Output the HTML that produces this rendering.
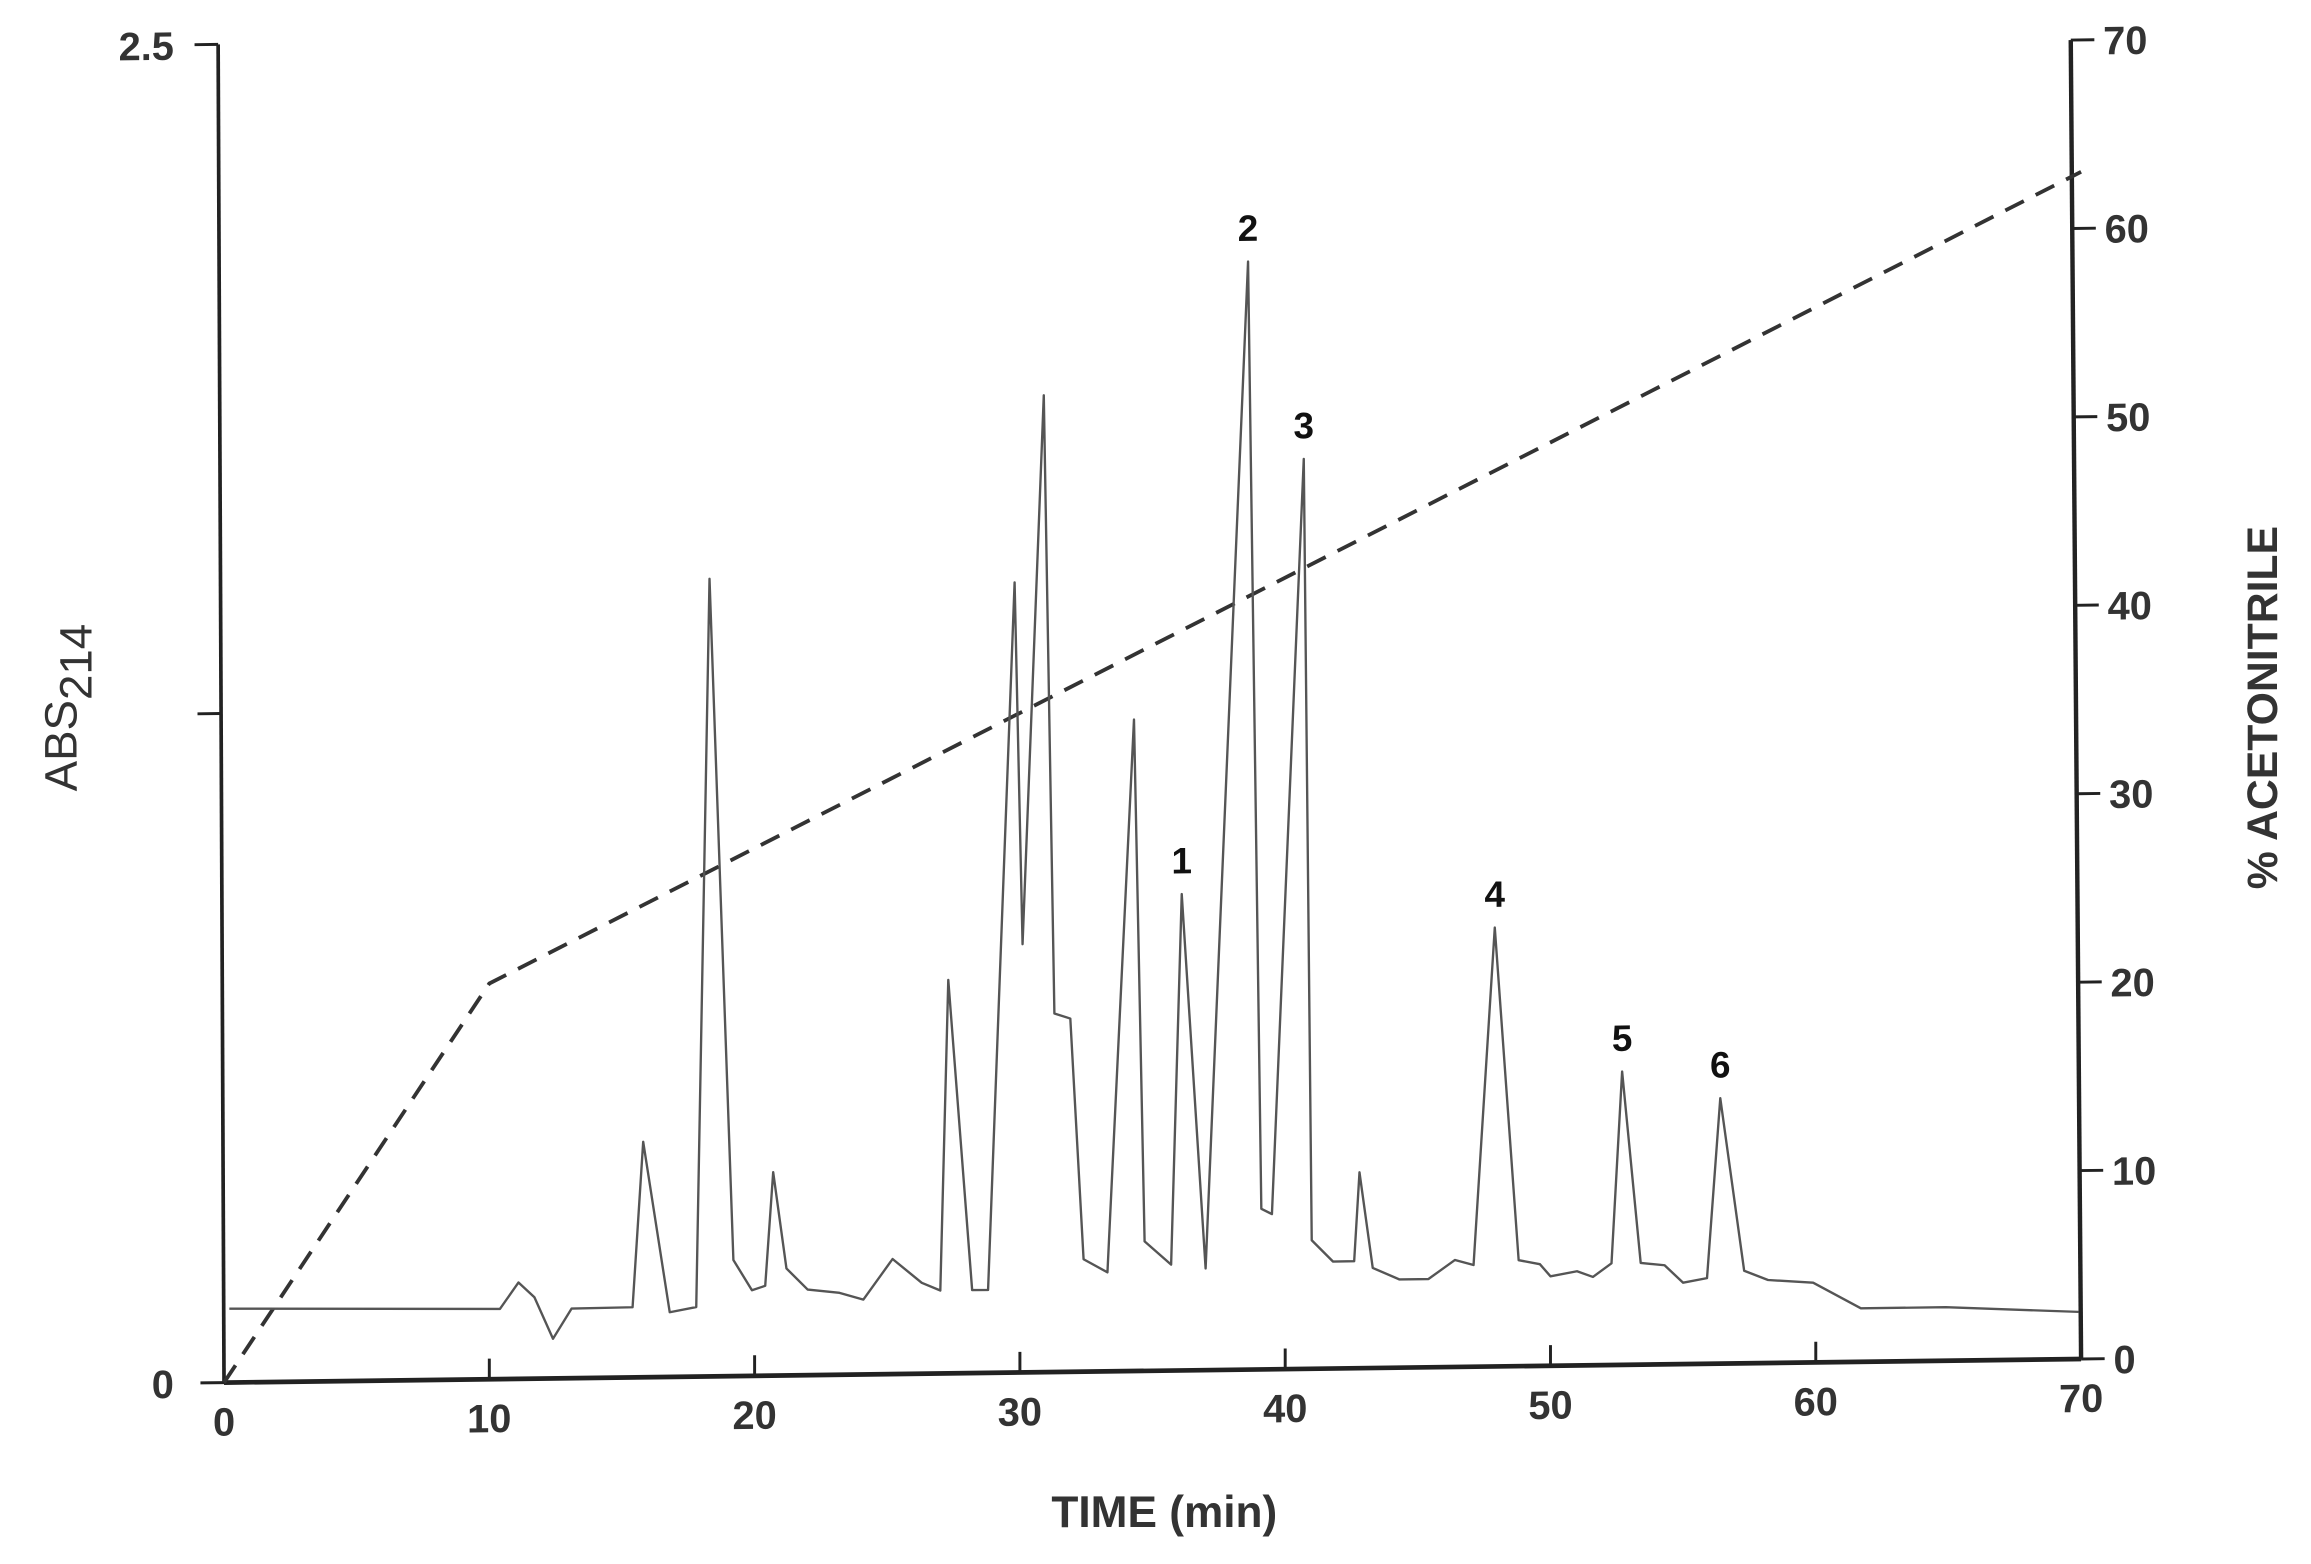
<!DOCTYPE html>
<html><head><meta charset="utf-8"><style>
html,body{margin:0;padding:0;background:#fff;}
svg{display:block;font-family:"Liberation Sans",Arial,sans-serif;}
</style></head><body>
<svg id="chart" width="2311" height="1564" viewBox="0 0 1568 1061" xmlns="http://www.w3.org/2000/svg">
<g id="plot" transform="matrix(1 -0.0127 0 1 0 1.93)"></g>
</svg>
<script>
const timeVals=[0.2,10.4,11.1,11.7,12.4,13.1,15.4,15.8,16.8,17.8,18.3,19.2,19.9,20.4,20.7,21.2,22,23.2,24.1,25.2,26.3,27,27.3,28.2,28.8,29.8,30.1,30.9,31.3,31.9,32.4,33.3,34.3,34.7,35.7,36.1,37,38.6,39.1,39.5,40.7,41,41.8,42.6,42.8,43.3,44.3,45.4,46.4,47.1,47.9,48.8,49.6,50,51,51.6,52.3,52.7,53.4,54.3,55,55.9,56.4,57.3,58.2,59.9,61.7,64.9,69.9];
const absVals=[0.138,0.131,0.18,0.152,0.074,0.13,0.131,0.44,0.121,0.13,1.49,0.217,0.16,0.168,0.38,0.2,0.16,0.153,0.14,0.215,0.17,0.155,0.735,0.155,0.155,1.476,0.8,1.825,0.67,0.66,0.21,0.185,1.217,0.242,0.198,0.89,0.19,2.07,0.3,0.29,1.7,0.24,0.2,0.2,0.366,0.187,0.165,0.165,0.2,0.19,0.82,0.198,0.19,0.167,0.176,0.165,0.19,0.548,0.19,0.185,0.152,0.16,0.496,0.173,0.155,0.149,0.1,0.1,0.088];
const gradTime=[0,10,70];
const gradPct=[0,21,63];
const xTicks=[0,10,20,30,40,50,60,70];
const rightTicks=[0,10,20,30,40,50,60,70];
const peakLabels=["1","2","3","4","5","6"];
const peakTimes=[36.1,38.6,40.7,47.9,52.7,56.4];
const peakAbs=[0.89,2.07,1.7,0.82,0.548,0.496];

const X0=152,Y0=938,XW=1260,YH=908,RH=895;
const xs=t=>X0+t/70*XW;
const ya=a=>Y0-a/2.5*YH;
const yp=p=>Y0-p/70*RH;
const NS="http://www.w3.org/2000/svg";
const g=document.getElementById('plot');
function mk(tag,attrs,parent){const e=document.createElementNS(NS,tag);for(const k in attrs)e.setAttribute(k,attrs[k]);(parent||g).appendChild(e);return e;}

let e=mk('line',{x1:X0,y1:Y0,x2:X0+XW,y2:Y0,stroke:'#222','stroke-width':3.2});


e=mk('line',{x1:X0,y1:Y0,x2:X0-4,y2:Y0-YH,stroke:'#222','stroke-width':2.5});


e=mk('line',{x1:X0+XW,y1:Y0,x2:X0+XW-7,y2:Y0-RH,stroke:'#222','stroke-width':3});



xTicks.forEach(v=>{
  let t=mk('line',{x1:xs(v),y1:Y0,x2:xs(v),y2:Y0-14,stroke:'#222','stroke-width':2});
  
  
  let l=mk('text',{x:xs(v),y:Y0+36,'text-anchor':'middle','font-size':27,'font-weight':'bold',fill:'#333'});
  l.textContent=v;
  
  
});
[0,1.25,2.5].forEach(v=>{
  const ox=-4*v/2.5*YH/YH*(v/2.5>0?1:0);
  let t=mk('line',{x1:X0-16+ox,y1:ya(v),x2:X0+ox,y2:ya(v),stroke:'#222','stroke-width':2});
  
  
});
[[0,'0'],[2.5,'2.5']].forEach(([v,s])=>{
  let l=mk('text',{x:X0-34,y:ya(v)+10,'text-anchor':'end','font-size':27,'font-weight':'bold',fill:'#333'});
  l.textContent=s;
  
  
});
rightTicks.forEach(v=>{
  const ox=-7*v/70;
  let t=mk('line',{x1:X0+XW+ox,y1:yp(v),x2:X0+XW+16+ox,y2:yp(v),stroke:'#222','stroke-width':2});
  
  
  let l=mk('text',{x:X0+XW+22+ox,y:yp(v)+10,'font-size':27,'font-weight':'bold',fill:'#333'});
  l.textContent=v;
  
  
});

let gd='';gradTime.forEach((t,i)=>{gd+=(i?'L':'M')+xs(t)+' '+yp(gradPct[i]);});
e=mk('path',{d:gd,fill:'none',stroke:'#333','stroke-width':2.6,'stroke-dasharray':'14 9'});



let td='';timeVals.forEach((t,i)=>{td+=(i?'L':'M')+xs(t).toFixed(1)+' '+ya(absVals[i]).toFixed(1);});
e=mk('path',{d:td,fill:'none',stroke:'#555','stroke-width':1.6,'stroke-linejoin':'round'});



peakLabels.forEach((s,i)=>{
  let l=mk('text',{x:xs(peakTimes[i]),y:ya(peakAbs[i])-14,'text-anchor':'middle','font-size':25,'font-weight':'bold',fill:'#111'});
  l.textContent=s;
  
  
});

const svg=document.getElementById('chart');
let tt=mk('text',{x:790,y:1036,'text-anchor':'middle','font-size':30,'font-weight':'bold',fill:'#333'},svg);
tt.textContent='TIME (min)';


let rt=mk('text',{x:1545,y:480,'text-anchor':'middle','font-size':29,'font-weight':'bold',fill:'#333',transform:'rotate(-90 1545 480)'},svg);
rt.textContent='% ACETONITRILE';


let lt=mk('text',{x:52,y:480,'text-anchor':'middle','font-size':31,fill:'#333',transform:'rotate(-90 52 480)'},svg);


lt.innerHTML='ABS<tspan dy="10" font-size="31">214</tspan>';
</script>
</body></html>
